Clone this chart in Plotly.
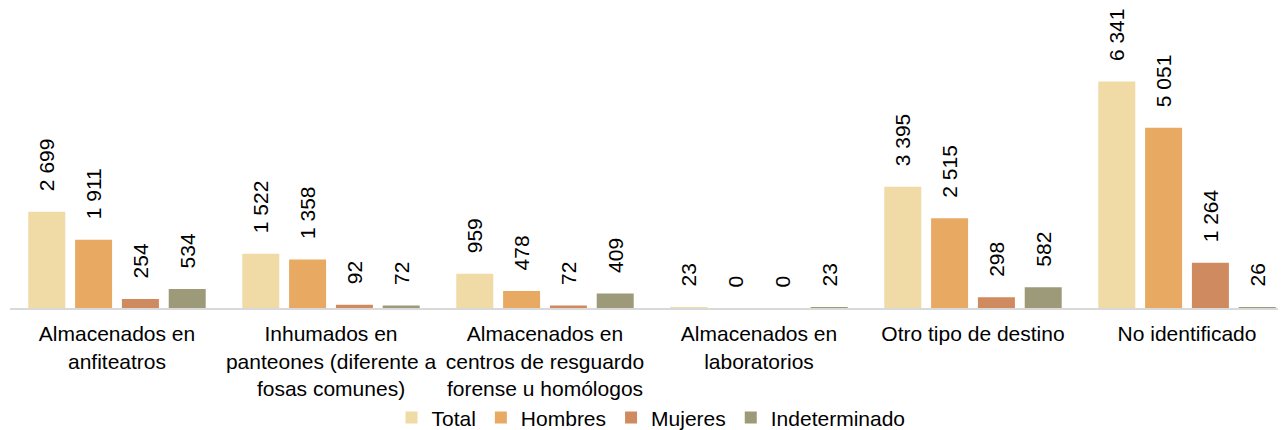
import plotly.graph_objects as go

categories = [
    "Almacenados en<br>anfiteatros",
    "Inhumados en<br>panteones (diferente a<br>fosas comunes)",
    "Almacenados en<br>centros de resguardo<br>forense u homólogos",
    "Almacenados en<br>laboratorios",
    "Otro tipo de destino",
    "No identificado",
]
total = [2699, 1522, 959, 23, 3395, 6341]
hombres = [1911, 1358, 478, 0, 2515, 5051]
mujeres = [254, 92, 72, 0, 298, 1264]
indeterminado = [534, 72, 409, 23, 582, 26]

series = [
    ("Total", total, "#F0DBA6"),
    ("Hombres", hombres, "#E8AA63"),
    ("Mujeres", mujeres, "#D08A5F"),
    ("Indeterminado", indeterminado, "#9C9A79"),
]

FONT = "Liberation Sans, Arial, sans-serif"


def fmt(v):
    return "\u00a0\u00a0\u00a0" + f"{v:,}".replace(",", " ")


fig = go.Figure()
for name, vals, color in series:
    fig.add_trace(go.Bar(
        name=name,
        x=categories,
        y=vals,
        marker=dict(color=color, line=dict(width=0)),
        text=[fmt(v) for v in vals],
        textposition="outside",
        textangle=-90,
        constraintext="none",
        cliponaxis=False,
        textfont=dict(family=FONT, size=21, color="#000000"),
        hoverinfo="skip",
    ))

fig.update_layout(
    width=1286,
    height=430,
    margin=dict(l=2, r=0, t=12, b=130, autoexpand=False),
    paper_bgcolor="white",
    plot_bgcolor="white",
    barmode="group",
    bargap=0.125,
    bargroupgap=0.21,
    font=dict(family=FONT, size=21, color="#000000"),
    showlegend=True,
    legend=dict(
        orientation="h",
        x=0.5,
        xanchor="center",
        xref="container",
        yref="container",
        y=0.047,
        yanchor="middle",
        bgcolor="rgba(0,0,0,0)",
        font=dict(family=FONT, size=21, color="#000000"),
        itemwidth=30,
        traceorder="normal",
    ),
    xaxis=dict(
        showline=True,
        linecolor="#D9D9D9",
        linewidth=2,
        ticks="outside",
        ticklen=6,
        tickcolor="rgba(0,0,0,0)",
        showgrid=False,
        automargin=False,
        tickfont=dict(family=FONT, size=21, color="#000000"),
    ),
    yaxis=dict(
        range=[0, 8067],
        visible=False,
        showgrid=False,
        zeroline=False,
        automargin=False,
    ),
)

fig.write_html("out.html")
